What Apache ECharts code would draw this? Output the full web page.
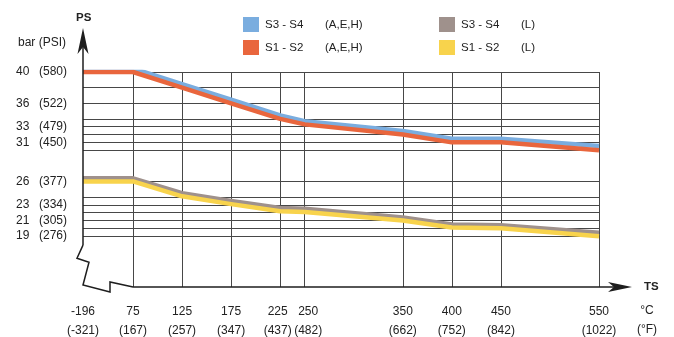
<!DOCTYPE html>
<html><head><meta charset="utf-8">
<script src="https://cdn.jsdelivr.net/npm/echarts@6.0.0/dist/echarts.min.js"></script>
<style>html,body{margin:0;padding:0;background:#fff}#c{width:674px;height:337px}</style>
</head><body><div id="c"></div>
<script>
// Temperatures (°C) and matching °F labels
const tempsC = [-196, 75, 125, 175, 225, 250, 350, 400, 450, 550];
const tempsF = ['-321', '167', '257', '347', '437', '482', '662', '752', '842', '1022'];
// Pressure ratings (bar)
const s3s4AEH = [40.45, 40.45, 38.45, 36.45, 34.45, 33.7, 32.45, 31.45, 31.45, 30.55];
const s1s2AEH = [40, 40, 38, 36, 34, 33.3, 32, 31, 31, 30];
const s3s4L = [26.4, 26.4, 24.5, 23.5, 22.6, 22.5, 21.4, 20.5, 20.4, 19.45];
const s1s2L = [26, 26, 24.1, 23.1, 22.2, 22.1, 21, 20.1, 20, 19];
// Axis ticks
const yLabelBar = [40, 36, 33, 31, 26, 23, 21, 19];
const yLabelPsi = ['580', '522', '479', '450', '377', '334', '305', '276'];
const yGridBar = [40, 38, 36, 34, 33, 32, 31, 30, 26, 24, 23, 22, 21, 20, 19];
const xGridC = [75, 125, 175, 225, 250, 350, 400, 450, 550];
const seriesNames = ['S3 - S4 (A,E,H)', 'S1 - S2 (A,E,H)', 'S3 - S4 (L)', 'S1 - S2 (L)'];
const seriesColors = ['#7aaddf', '#e9663d', '#9f918c', '#f8d34c'];
const seriesValues = [s3s4AEH, s1s2AEH, s3s4L, s1s2L];

const FONT = "'Liberation Sans', Arial, sans-serif";
const TXT = '#222';

const chart = echarts.init(document.getElementById('c'), null, { renderer: 'canvas' });

const legendCommon = {
  orient: 'vertical', icon: 'rect', itemWidth: 16, itemHeight: 15, itemGap: 8,
  top: 17, padding: 0, selectedMode: false,
  formatter: n => { const i = n.indexOf(' ('); return '{a|' + n.slice(0, i) + '}{b|' + n.slice(i + 1) + '}'; },
  textStyle: { fontFamily: FONT, fontSize: 11.5, color: TXT, padding: [0, 0, 0, 1],
    rich: { a: { width: 60, align: 'left', fontFamily: FONT, fontSize: 11.5, color: TXT }, b: { align: 'left', fontFamily: FONT, fontSize: 11.5, color: TXT } } }
};

const xl = { fontFamily: FONT, fontSize: 12, color: TXT, lineHeight: 19 };

const option = {
  animation: false,
  backgroundColor: '#fff',
  legend: [
    Object.assign({ left: 243, data: [seriesNames[0], seriesNames[1]] }, legendCommon),
    Object.assign({ left: 439, data: [seriesNames[2], seriesNames[3]] }, legendCommon)
  ],
  grid: { left: 83, right: 75, top: 72, bottom: 50, containLabel: false, outerBoundsMode: 'none' },
  xAxis: {
    type: 'value', min: -196, max: 550,
    breaks: [{ start: -180, end: 40, gap: 0 }],
    breakArea: { show: false },
    axisLine: { show: false },
    axisTick: { show: false, customValues: xGridC },
    splitLine: { show: true, lineStyle: { color: '#474747', width: 1 } },
    axisLabel: {
      customValues: tempsC, margin: 15, lineHeight: 19,
      fontFamily: FONT, fontSize: 12, color: TXT,
      formatter: v => {
        const i = tempsC.indexOf(v);
        if (i < 0) return '';
        const k = v === 250 ? 'r' : (v === 225 ? 'l' : 'n');
        return '{' + k + '|' + v + '}\n{' + k + '|(' + tempsF[i] + ')}';
      },
      rich: {
        n: xl,
        r: Object.assign({ padding: [0, 0, 0, 7] }, xl),
        l: Object.assign({ padding: [0, 5, 0, 0] }, xl)
      }
    }
  },
  yAxis: {
    type: 'value', min: 12.5, max: 40,
    axisLine: { show: false },
    axisTick: { show: false, customValues: yGridBar },
    splitLine: { show: true, lineStyle: { color: '#474747', width: 1 } },
    axisLabel: {
      customValues: yLabelBar, margin: 16, align: 'right',
      fontFamily: FONT, fontSize: 12, color: TXT,
      formatter: v => { const i = yLabelBar.indexOf(v); return i < 0 ? '' : '{a|' + v + '}{b|(' + yLabelPsi[i] + ')}'; },
      rich: { a: { width: 23, align: 'left', fontFamily: FONT, fontSize: 12, color: TXT }, b: { align: 'left', fontFamily: FONT, fontSize: 12, color: TXT } }
    }
  },
  series: seriesValues.map((vals, k) => ({
    name: seriesNames[k], type: 'line', showSymbol: false, symbol: 'none',
    color: seriesColors[k],
    lineStyle: { width: 4.5, color: seriesColors[k], join: 'round' },
    data: tempsC.map((t, i) => [t, vals[i]]),
    z: 3
  }))
};
chart.setOption(option);

// Decorative axis lines, arrows, break marker and titles (positioned from the axis scales)
const px = v => chart.convertToPixel({ gridIndex: 0 }, [v, 40])[0];
const py = v => chart.convertToPixel({ gridIndex: 0 }, [75, v])[1];
const x0 = px(-196), xb = px(75), xe = px(550);
const yB = py(12.5), y19 = py(19), y40 = py(40);
const AX = '#1e1e1e';
const yTip = y40 - 44, xTip = xe + 33;
chart.setOption({
  graphic: [
    { type: 'line', shape: { x1: x0, y1: yTip + 6, x2: x0, y2: y19 + 9 }, style: { stroke: AX, lineWidth: 1.5 }, z: 10 },
    { type: 'polyline', shape: { points: [[x0, y19 + 9], [x0 - 6, y19 + 22], [x0 + 6, y19 + 26], [x0, yB - 2], [x0 + 27, yB + 5], [x0 + 27, yB - 5], [xb, yB]] }, style: { stroke: AX, lineWidth: 1.5, fill: null }, z: 10 },
    { type: 'line', shape: { x1: xb, y1: yB, x2: xTip - 6, y2: yB }, style: { stroke: AX, lineWidth: 1.5 }, z: 10 },
    { type: 'polygon', shape: { points: [[x0, yTip], [x0 + 5.5, yTip + 26], [x0, yTip + 19], [x0 - 5.5, yTip + 26]] }, style: { fill: AX }, z: 11 },
    { type: 'polygon', shape: { points: [[xTip, yB], [xTip - 24, yB - 5], [xTip - 18, yB], [xTip - 24, yB + 5]] }, style: { fill: AX }, z: 11 },
    { type: 'text', x: x0 - 7, y: yTip - 10, style: { text: 'PS', fontFamily: FONT, fontSize: 11.5, fontWeight: 'bold', fill: TXT, textVerticalAlign: 'middle' } },
    { type: 'text', x: x0 - 17, y: yTip + 15, style: { text: 'bar (PSI)', fontFamily: FONT, fontSize: 12, fill: TXT, textAlign: 'right', textVerticalAlign: 'middle' } },
    { type: 'text', x: xTip + 12, y: yB, style: { text: 'TS', fontFamily: FONT, fontSize: 11.5, fontWeight: 'bold', fill: TXT, textVerticalAlign: 'middle' } },
    { type: 'text', x: xTip + 15, y: yB + 24, style: { text: '°C', fontFamily: FONT, fontSize: 12, fill: TXT, textAlign: 'center', textVerticalAlign: 'middle' } },
    { type: 'text', x: xTip + 15, y: yB + 43, style: { text: '(°F)', fontFamily: FONT, fontSize: 12, fill: TXT, textAlign: 'center', textVerticalAlign: 'middle' } }
  ]
});
</script>
</body></html>
